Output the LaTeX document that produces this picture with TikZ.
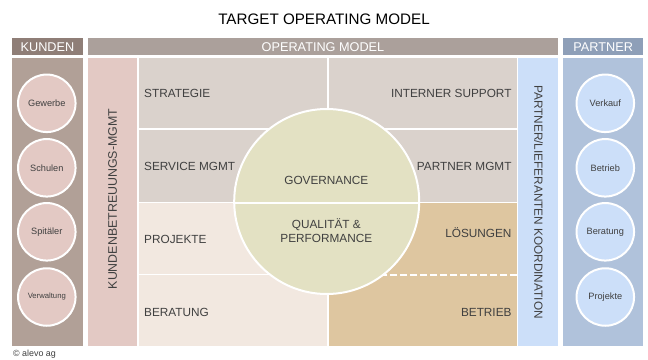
\documentclass[tikz,border=0pt]{standalone}
\usepackage{fontspec}
\setmainfont{Liberation Sans}
\definecolor{txt}{HTML}{404040}
\definecolor{kundenhead}{HTML}{8F7E77}
\definecolor{kundenbody}{HTML}{B1A097}
\definecolor{rose}{HTML}{E3C9C4}
\definecolor{ophead}{HTML}{ABA09B}
\definecolor{greycell}{HTML}{DAD2CC}
\definecolor{palecell}{HTML}{F2E8E0}
\definecolor{sandcell}{HTML}{DEC6A0}
\definecolor{olive}{HTML}{E3E1C3}
\definecolor{sky}{HTML}{CCDFF9}
\definecolor{parthead}{HTML}{8E9FB8}
\definecolor{partbody}{HTML}{B0C2DB}
\tikzset{
  x=1pt,y=-1pt,
  block/.style={draw=none,inner sep=0pt,outer sep=0pt,text=txt},
  headbox/.style={block,text=white,font=\fontsize{12.7}{14}\selectfont,minimum height=17.5pt},
  cust/.style={circle,draw=white,line width=2pt,minimum size=57.5pt,inner sep=0pt,font=\fontsize{9.2}{11}\selectfont,text=txt},
  label/.style={inner sep=0pt,font=\fontsize{11.8}{14}\selectfont,text=txt},
}
\begin{document}
\begin{tikzpicture}
\useasboundingbox (0,0) rectangle (648,359);
\fill[white] (0,0) rectangle (648,359);
\node[inner sep=0pt,font=\fontsize{15.2}{18}\selectfont,text=black] (title) at (324,19.5) {TARGET OPERATING MODEL};
% headers
\node[headbox,fill=kundenhead,minimum width=71pt] (hk) at (47.5,46.7) {KUNDEN};
\node[headbox,fill=ophead,minimum width=470pt] (ho) at (323,46.7) {OPERATING MODEL};
\node[headbox,fill=parthead,minimum width=79.5pt] (hp) at (603.2,46.7) {PARTNER};
% side bodies
\node[block,fill=kundenbody,minimum width=71pt,minimum height=288pt] (bk) at (47.5,202) {};
\node[block,fill=partbody,minimum width=79.5pt,minimum height=288pt] (bp) at (603.2,202) {};
% columns
\node[block,fill=rose,minimum width=49pt,minimum height=288pt] (cl) at (112.5,202) {};
\node[block,fill=sky,minimum width=39.5pt,minimum height=288pt] (cr) at (538.2,202) {};
\node[label,rotate=90,font=\fontsize{12.4}{14}\selectfont] (cltext) at (112.5,199) {KUNDENBETREUUNGS-MGMT};
\node[label,rotate=-90] (crtext) at (538.5,202) {PARTNER/LIEFERANTEN KOORDINATION};
% cells
\node[block,fill=greycell,minimum width=187.5pt,minimum height=70pt] (c1) at (232.75,93) {};
\node[block,fill=greycell,minimum width=187.5pt,minimum height=71.5pt] (c2) at (232.75,166) {};
\node[block,fill=palecell,minimum width=187.5pt,minimum height=70.5pt] (c3) at (232.75,238.5) {};
\node[block,fill=palecell,minimum width=187.5pt,minimum height=71.5pt] (c4) at (232.75,310.5) {};
\node[block,fill=greycell,minimum width=188.5pt,minimum height=70pt] (c5) at (423,93) {};
\node[block,fill=greycell,minimum width=188.5pt,minimum height=71.5pt] (c6) at (423,166) {};
\node[block,fill=sandcell,minimum width=188.5pt,minimum height=143pt] (c7) at (423,274.5) {};
\coordinate (dashl) at (328.7,274.5);
\coordinate (dashr) at (517.3,274.5);
\draw[white,line width=2pt,dash pattern=on 7pt off 3pt] (dashr) -- (dashl);
% cell labels
\node[label,anchor=west] (t1) at (144,93.5) {STRATEGIE};
\node[label,anchor=west] (t2) at (144,166.5) {SERVICE MGMT};
\node[label,anchor=west] (t3) at (144,239) {PROJEKTE};
\node[label,anchor=west] (t4) at (144,312) {BERATUNG};
\node[label,anchor=east] (t5) at (511.7,93.5) {INTERNER SUPPORT};
\node[label,anchor=east] (t6) at (511.7,166.5) {PARTNER MGMT};
\node[label,anchor=east] (t7) at (511.7,232.5) {LÖSUNGEN};
\node[label,anchor=east] (t8) at (511.7,312) {BETRIEB};
% central circle
\node[circle,fill=olive,draw=white,line width=2pt,minimum size=185pt,inner sep=0pt] (hub) at (326.7,201.5) {};
\draw[white,line width=2pt] (hub.west |- 0,202.7) -- (hub.east |- 0,202.7);
\node[label] (gov) at (326.3,180.5) {GOVERNANCE};
\node[label,align=center,font=\fontsize{11.8}{13.6}\selectfont] (qual) at (326.3,230.5) {QUALITÄT \&\\PERFORMANCE};
% customer circles
\node[cust,fill=rose] (k1) at (46.8,103.3) {Gewerbe};
\node[cust,fill=rose] (k2) at (46.8,167.8) {Schulen};
\node[cust,fill=rose] (k3) at (46.8,231.8) {Spitäler};
\node[cust,fill=rose,font=\fontsize{7.7}{9}\selectfont] (k4) at (46.8,297) {Verwaltung};
\node[cust,fill=sky] (p1) at (605.3,103.3) {Verkauf};
\node[cust,fill=sky] (p2) at (605.3,167.8) {Betrieb};
\node[cust,fill=sky] (p3) at (605.3,231.8) {Beratung};
\node[cust,fill=sky] (p4) at (605.3,297) {Projekte};
\node[inner sep=0pt,anchor=west,font=\fontsize{8.9}{10}\selectfont,text=txt] (copy) at (13,354.5) {© alevo ag};
\end{tikzpicture}
\end{document}
